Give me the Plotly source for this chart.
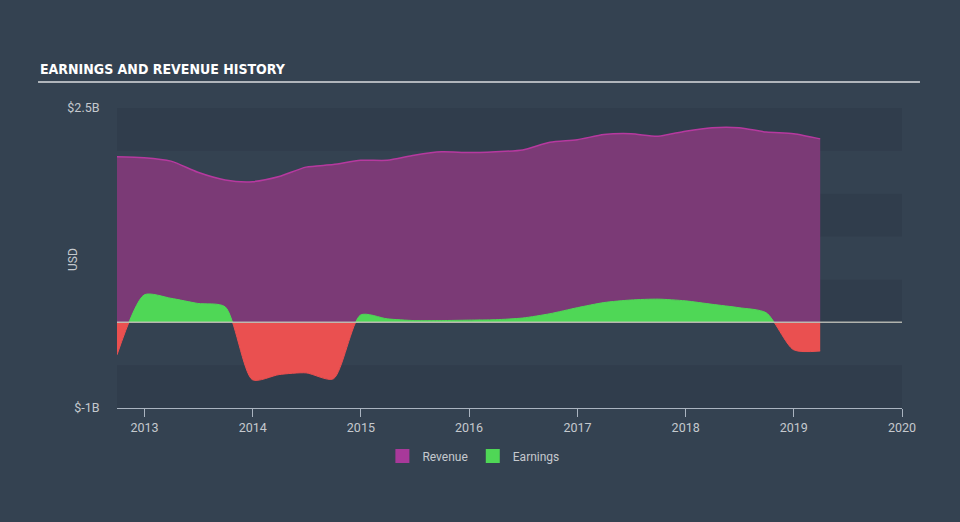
import plotly.graph_objects as go

# ---- data (values in billions USD) ----
revenue_dates = ["2012-09-30", "2012-12-31", "2013-03-31", "2013-06-30", "2013-09-30",
                 "2013-12-31", "2014-03-31", "2014-06-30", "2014-09-30", "2014-12-31",
                 "2015-03-31", "2015-06-30", "2015-09-30", "2015-12-31", "2016-03-31",
                 "2016-06-30", "2016-09-30", "2016-12-31", "2017-03-31", "2017-06-30",
                 "2017-09-30", "2017-12-31", "2018-03-31", "2018-06-30", "2018-09-30",
                 "2018-12-31", "2019-03-31"]
revenue_values = [1.93, 1.92, 1.88, 1.75, 1.66, 1.64, 1.70, 1.81, 1.84, 1.89,
                  1.89, 1.95, 1.99, 1.98, 1.99, 2.01, 2.10, 2.13, 2.19, 2.20,
                  2.17, 2.23, 2.27, 2.27, 2.22, 2.20, 2.14]

earnings_dates = revenue_dates
earnings_values = [-0.38, 0.32, 0.28, 0.22, 0.18, -0.67, -0.61, -0.59, -0.66, 0.085,
                   0.04, 0.02, 0.02, 0.025, 0.03, 0.05, 0.10, 0.17, 0.23, 0.26,
                   0.27, 0.25, 0.21, 0.17, 0.11, -0.32, -0.335]

y_tick_values = [2.5, -1]
y_tick_labels = ["$2.5B", "$-1B"]
x_range = ["2012-09-30", "2020-01-01"]
y_range = [-1, 2.5]

# ---- styles ----
PAPER = "#344251"
BAND_DARK = "#303d4c"
BAND_LIGHT = "#344251"
REV_FILL = "#7b3a76"
REV_LINE = "#b6399f"
REV_LEGEND = "#a8399a"
GREEN = "#4fd756"
RED = "#ea5050"
TXT = "#c5c9ce"
FONT = "Roboto, 'Open Sans', sans-serif"

zero_frac = (0 - y_range[0]) / (y_range[1] - y_range[0])

fig = go.Figure()

fig.add_trace(go.Scatter(
    x=revenue_dates, y=revenue_values, mode="lines", fill="tozeroy",
    fillcolor=REV_FILL, line=dict(color=REV_LINE, width=1.5, shape="spline", smoothing=0.7),
    showlegend=False, hoverinfo="skip", xaxis="x", yaxis="y"))

# positive earnings (clipped by upper axis domain)
fig.add_trace(go.Scatter(
    x=earnings_dates, y=earnings_values, mode="lines", fill="tozeroy",
    fillcolor=GREEN, line=dict(color=GREEN, width=1, shape="spline", smoothing=0.7),
    showlegend=False, hoverinfo="skip", xaxis="x", yaxis="y3"))

# negative earnings (clipped by lower axis domain)
fig.add_trace(go.Scatter(
    x=earnings_dates, y=earnings_values, mode="lines", fill="tozeroy",
    fillcolor=RED, line=dict(color=RED, width=1, shape="spline", smoothing=0.7),
    showlegend=False, hoverinfo="skip", xaxis="x", yaxis="y2"))

# legend entries
fig.add_trace(go.Scatter(x=[None], y=[None], mode="markers", name="Revenue",
                         marker=dict(symbol="square", size=14, color=REV_LEGEND)))
fig.add_trace(go.Scatter(x=[None], y=[None], mode="markers", name="Earnings",
                         marker=dict(symbol="square", size=14, color=GREEN)))

shapes = []
# alternating horizontal bands
b = y_range[0]
i = 0
while b < y_range[1] - 1e-9:
    shapes.append(dict(type="rect", xref="paper", yref="y", x0=0, x1=1, y0=b, y1=b + 0.5,
                       fillcolor=BAND_DARK if i % 2 == 0 else BAND_LIGHT,
                       line=dict(width=0), layer="below"))
    b += 0.5
    i += 1
# zero line
shapes.append(dict(type="line", xref="paper", yref="y", x0=0, x1=1, y0=0, y1=0,
                   line=dict(color="rgba(200,200,190,0.85)", width=1.5), layer="above"))
# title underline
shapes.append(dict(type="line", xref="paper", yref="paper", x0=-0.1006, x1=1.0229,
                   y0=1.0867, y1=1.0867, line=dict(color="#b0b5bb", width=2)))

fig.update_layout(
    width=960, height=522,
    paper_bgcolor=PAPER, plot_bgcolor="rgba(0,0,0,0)",
    margin=dict(l=117, r=58, t=108, b=114, autoexpand=False),
    font=dict(family=FONT, color=TXT, size=12),
    shapes=shapes,
    xaxis=dict(type="date", range=x_range, anchor="y", dtick="M12", tickformat="%Y",
               showgrid=False, zeroline=False, showline=True, linecolor="#aab4c0",
               linewidth=1, ticks="outside", ticklen=8, tickcolor="#aab4c0",
               tickfont=dict(size=12.5, color=TXT)),
    yaxis=dict(range=y_range, domain=[0, 1], anchor="x", tickvals=y_tick_values,
               ticktext=y_tick_labels, showgrid=False, zeroline=False, showline=False,
               ticks="outside", ticklen=14, tickcolor="rgba(0,0,0,0)",
               tickfont=dict(size=12.5, color=TXT)),
    yaxis2=dict(range=[y_range[0], 0], domain=[0, zero_frac], anchor="x", visible=False),
    yaxis3=dict(range=[0, y_range[1]], domain=[zero_frac, 1], anchor="x", visible=False),
    legend=dict(orientation="h", x=0.454, xanchor="center", y=-0.16, yanchor="middle",
                font=dict(size=12, color=TXT), bgcolor="rgba(0,0,0,0)",
                itemclick=False, itemdoubleclick=False),
    annotations=[
        dict(text="<b>EARNINGS AND REVENUE HISTORY</b>", xref="paper", yref="paper",
             x=-0.1006, y=1.097, xanchor="left", yanchor="bottom", showarrow=False,
             font=dict(family="'DejaVu Sans Condensed', 'Liberation Sans Narrow', sans-serif",
                       size=14, color="#ffffff")),
        dict(text="USD", xref="paper", yref="paper", x=(73 - 117) / 785, y=(408 - 260) / 300,
             xanchor="center", yanchor="middle", textangle=-90, showarrow=False,
             font=dict(size=12, color=TXT)),
    ],
)

fig.write_html("out.html")
